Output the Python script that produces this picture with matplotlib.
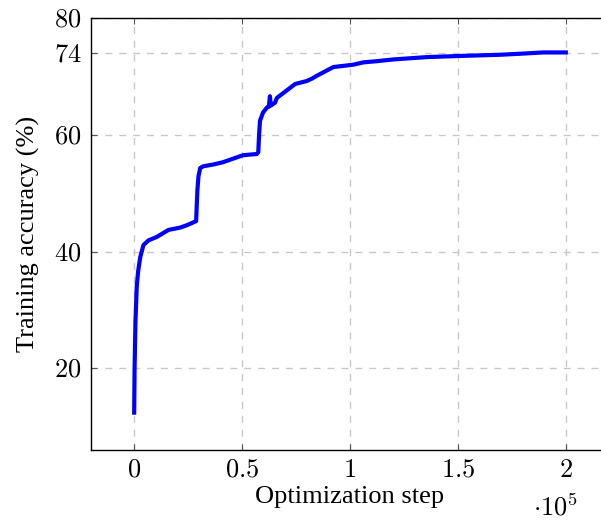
import matplotlib.pyplot as plt
from matplotlib.ticker import FuncFormatter

plt.rcParams['mathtext.fontset'] = 'cm'
plt.rcParams['font.family'] = ['Liberation Serif', 'DejaVu Serif']

# training curve (step, accuracy %)
steps = [0, 200, 600, 1200, 1800, 2800, 4300, 6600, 10500, 15900, 21300, 24400,
         28700, 29300, 29800, 30600, 32000, 36600, 41200, 45800, 50500, 56800,
         57500, 57900, 58300, 59700, 61600, 62400, 62900, 63300, 65300, 66100,
         70700, 74600, 79900, 82300, 84600, 87700, 92300, 101500, 106200, 112300,
         120000, 135500, 150900, 169400, 180000, 189400, 200000]
accuracy = [12.4, 20.0, 28.0, 34.0, 36.5, 39.0, 41.1, 41.9, 42.5, 43.7, 44.1, 44.5,
            45.2, 50.5, 52.9, 54.3, 54.6, 54.9, 55.3, 55.9, 56.5, 56.7,
            57.0, 60.1, 62.4, 63.8, 64.7, 64.8, 66.6, 65.0, 65.5, 66.3,
            67.6, 68.7, 69.2, 69.6, 70.1, 70.7, 71.6, 72.0, 72.4, 72.6,
            72.9, 73.3, 73.5, 73.7, 73.9, 74.1, 74.1]

xticks = [0, 50000, 100000, 150000, 200000]
yticks = [20, 40, 60, 74, 80]

fig = plt.figure(figsize=(6.01, 5.2), dpi=100)
ax = fig.add_axes([91 / 601, 1 - 450 / 520, 518 / 601, 432 / 520])

ax.plot(steps, accuracy, color='blue', linewidth=3, solid_joinstyle='round')

ax.set_xlim(-20000, 220000)
ax.set_ylim(6, 80)
ax.set_xticks(xticks)
ax.set_yticks(yticks)
ax.xaxis.set_major_formatter(FuncFormatter(lambda v, p: '$%g$' % (v / 1e5)))
ax.yaxis.set_major_formatter(FuncFormatter(lambda v, p: '$%d$' % v))
ax.tick_params(direction='in', length=4, width=0.8, color='#555555',
               labelsize=19, top=True, right=True, pad=7)

ax.grid(True, color='#c8c8c8', linestyle=(0, (5, 5)), linewidth=1)
ax.set_axisbelow(True)
for s in ax.spines.values():
    s.set_linewidth(1)

ax.set_xlabel('Optimization step', fontsize=19, labelpad=3)
ax.set_ylabel('Training accuracy (%)', fontsize=19, labelpad=10)
fig.text(556 / 601, 1 - 507 / 520, r'$\cdot 10^5$', fontsize=19, ha='center', va='center')

fig.savefig('out.png', dpi=100)
